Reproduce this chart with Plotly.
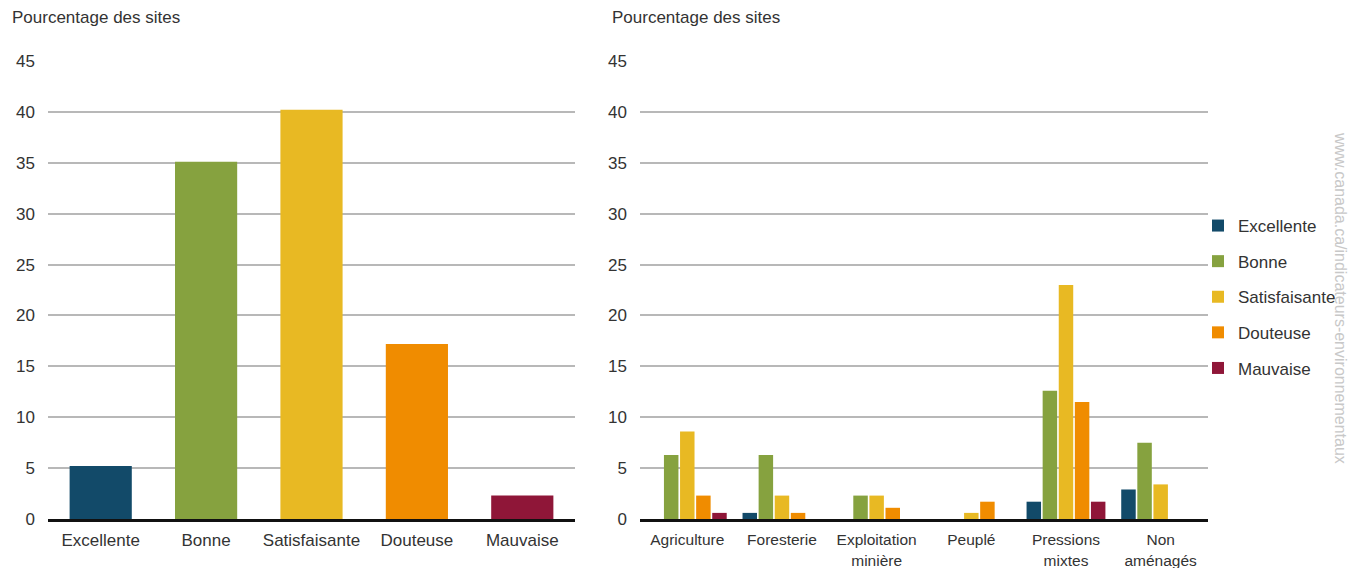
import plotly.graph_objects as go

qualities = ["Excellente", "Bonne", "Satisfaisante", "Douteuse", "Mauvaise"]
overall = [5.2, 35.1, 40.2, 17.2, 2.3]

uses = ["Agriculture", "Foresterie", "Exploitation<br>minière", "Peuplé",
        "Pressions<br>mixtes", "Non<br>aménagés"]
excellente = [0, 0.6, 0, 0, 1.7, 2.9]
bonne = [6.3, 6.3, 2.3, 0, 12.6, 7.5]
satisfaisante = [8.6, 2.3, 2.3, 0.6, 23.0, 3.4]
douteuse = [2.3, 0.6, 1.1, 1.7, 11.5, 0]
mauvaise = [0.6, 0, 0, 0, 1.7, 0]

colors = ["#124a69", "#86a23f", "#e8b923", "#f08c00", "#8f1638"]
series = [excellente, bonne, satisfaisante, douteuse, mauvaise]

FONT = "Liberation Sans, Arial, sans-serif"
TXT = "#333333"
FS = 17

fig = go.Figure()
fig.add_trace(go.Bar(x=qualities, y=overall, marker_color=colors,
                     marker_line_width=0, showlegend=False, width=0.59,
                     xaxis="x", yaxis="y"))
for name, vals, col in zip(qualities, series, colors):
    fig.add_trace(go.Bar(x=uses, y=vals, name=name, marker_color=col,
                         marker_line_width=0, legendgroup=name,
                         xaxis="x2", yaxis="y2"))

yax = dict(range=[0, 45], tickvals=[0, 5, 10, 15, 20, 25, 30, 35, 40, 45],
           showgrid=True, gridcolor="#b8b8b8", gridwidth=2, zeroline=False,
           ticks="", ticklabelstandoff=12, automargin=False,
           tickfont=dict(family=FONT, size=FS, color=TXT))
xax = dict(showline=True, linecolor="#111111", linewidth=2.5, ticks="",
           automargin=False, showgrid=False)

fig.update_layout(
    width=1354, height=568,
    margin=dict(l=48, r=146, t=61, b=49),
    paper_bgcolor="white", plot_bgcolor="white",
    barmode="group", bargap=0.15, bargroupgap=0.1,
    xaxis=dict(domain=[0, 0.4543], ticklabelstandoff=4,
               tickfont=dict(family=FONT, size=FS, color=TXT), **xax),
    yaxis=dict(anchor="x", **yax),
    xaxis2=dict(domain=[0.5103, 1.0], anchor="y2", ticklabelstandoff=5,
                tickfont=dict(family=FONT, size=15.5, color=TXT), **xax),
    yaxis2=dict(anchor="x2", **yax),
    legend=dict(xref="container", yref="container",
                x=1209/1354, y=1 - 208/568, xanchor="left", yanchor="top",
                font=dict(family=FONT, size=FS, color=TXT),
                traceorder="grouped", tracegroupgap=10.5,
                itemwidth=30, bgcolor="rgba(0,0,0,0)"),
    font=dict(family=FONT, color=TXT),
)

fig.add_annotation(text="Pourcentage des sites", xref="paper", yref="paper",
                   x=-38/1160, y=1 + 43/458, xanchor="left", yanchor="middle",
                   showarrow=False, font=dict(family=FONT, size=17, color=TXT))
fig.add_annotation(text="Pourcentage des sites", xref="paper", yref="paper",
                   x=(610-48)/1160, y=1 + 43/458, xanchor="left", yanchor="middle",
                   showarrow=False, font=dict(family=FONT, size=17, color=TXT))
fig.add_annotation(text="www.canada.ca/indicateurs-environnementaux",
                   xref="paper", yref="paper", x=(1341-48)/1160, y=(519-298)/458,
                   xanchor="center", yanchor="middle", textangle=90,
                   showarrow=False, font=dict(family=FONT, size=16, color="#c8c8c8"))

post = """
document.body.style.margin='0';
document.body.style.overflow='hidden';
var lg = document.querySelector('g.legend');
if (lg) {
  var t = lg.getAttribute('transform') || '';
  var m = t.match(/translate\\(\\s*([-\\d.]+)[ ,]+([-\\d.]+)\\s*\\)/);
  if (m) { lg.setAttribute('transform', 'translate(' + (parseFloat(m[1]) - 11) + ',' + m[2] + ')'); }
}
"""
fig.write_html("out.html", config={"displayModeBar": False}, post_script=post)
